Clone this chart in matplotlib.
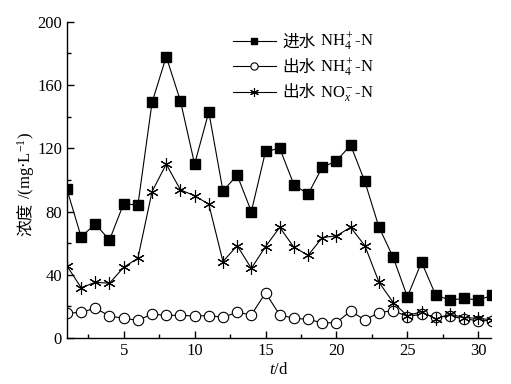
import numpy as np
import matplotlib
matplotlib.use('Agg')
import matplotlib.pyplot as plt
from matplotlib.ticker import MultipleLocator

plt.rcParams['font.family'] = ['Liberation Serif', 'Noto Sans CJK SC']
plt.rcParams['mathtext.fontset'] = 'custom'
plt.rcParams['mathtext.rm'] = 'Liberation Serif'
plt.rcParams['mathtext.it'] = 'Liberation Serif:italic'

# data
days = np.arange(1, 32)
inf_nh4 = [94, 64, 72, 62, 85, 84, 149, 178, 150, 110, 143, 93, 103, 80, 118,
           120, 97, 91, 108, 112, 122, 99, 70, 51, 26, 48, 27, 24, 25, 24, 27]
eff_nh4 = [15.6, 16.2, 18.8, 13.9, 12.4, 11.2, 15, 14.3, 14.3, 13.9, 14.1, 13.1,
           16.2, 14.6, 28.5, 14.6, 12.4, 11.8, 9.5, 9.7, 17, 11.4, 16, 17.3,
           13.5, 15, 13.5, 13.7, 12.2, 10.8, 11]
eff_nox = [45.6, 31.8, 35.2, 34.6, 44.7, 50.4, 92.6, 110, 93.7, 90, 84.6, 48.3,
           58.4, 44, 57.8, 70, 57.4, 52.3, 63.5, 64.6, 70, 58.4, 35.2, 22.4, 14,
           16.6, 12, 15, 12.9, 12.4, 11.4]
labels_cn = ['进水', '出水', '出水']
labels_chem = ['NH$_4^+$-N', 'NH$_4^+$-N', 'NO$_x^-$-N']

fig = plt.figure(figsize=(5.11, 3.84), dpi=100)
ax = fig.add_axes([0.131, 0.120, 0.830, 0.823])

ax.plot(days, inf_nh4, color='k', lw=0.8, marker='s', ms=7, mfc='k', mec='k', label=labels_cn[0])
ax.plot(days, eff_nh4, color='k', lw=0.8, marker='o', ms=7.5, mfc='white', mec='k', mew=0.8, label=labels_cn[1])
ax.plot(days, eff_nox, color='k', lw=0.8, marker=(6, 2, 0), ms=9, mec='k', mew=0.8, label=labels_cn[2])

ax.set_xlim(1, 30.9)
ax.set_ylim(0, 200)
ax.xaxis.set_major_locator(MultipleLocator(5))
ax.xaxis.set_minor_locator(MultipleLocator(2.5))
ax.yaxis.set_major_locator(MultipleLocator(40))
ax.yaxis.set_minor_locator(MultipleLocator(20))
ax.tick_params(which='both', direction='in', labelsize=12, width=1)
ax.tick_params(which='major', length=5)
ax.tick_params(which='minor', length=3)
for s in ['top', 'right']:
    ax.spines[s].set_visible(False)
for s in ['left', 'bottom']:
    ax.spines[s].set_linewidth(1)

ax.set_xlabel('$t$/d', fontsize=12, labelpad=2)

leg = ax.legend(loc='upper left', bbox_to_anchor=(0.355, 1.008), frameon=False, fontsize=12,
                handlelength=2.6, markerscale=0.7, labelspacing=0.57, handletextpad=0.4)

# mathtext has no CJK glyphs, so the chemical part is set next to each label
fig.canvas.draw()
inv = fig.transFigure.inverted()
for t, chem in zip(leg.get_texts(), labels_chem):
    x0, y0 = t.get_transform().transform(t.get_position())
    w = t.get_window_extent().width
    fx, fy = inv.transform((x0 + w + 4, y0))
    fig.text(fx, fy, chem, fontsize=12, ha='left', va='baseline')

# y label: rotated, CJK part then the unit part
ylab_x, ylab_y = 31, 384 - 236
cn = fig.text(ylab_x / 511, ylab_y / 384, '浓度', fontsize=12, rotation=90,
              rotation_mode='anchor', ha='left', va='baseline')
fig.canvas.draw()
h = cn.get_window_extent().height
fig.text(ylab_x / 511, (ylab_y + h + 4) / 384, '/(mg·L$^{-1}$)', fontsize=12, rotation=90,
         rotation_mode='anchor', ha='left', va='baseline')

fig.savefig('out.png', dpi=100)
